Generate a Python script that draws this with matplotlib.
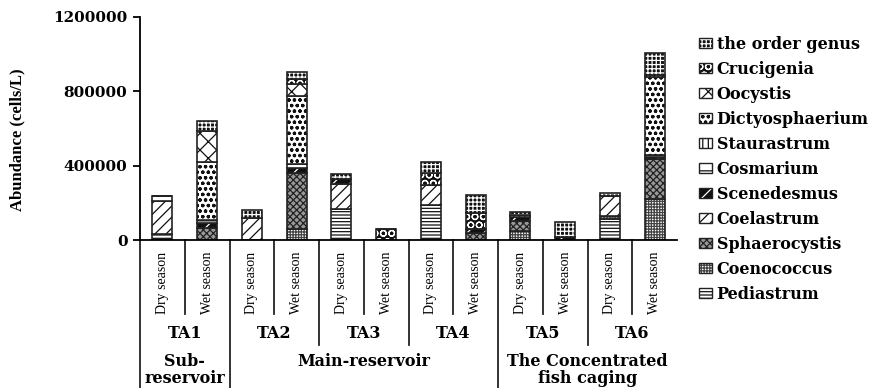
import matplotlib.pyplot as plt
import matplotlib.transforms as mtransforms
from matplotlib.patches import Patch
import numpy as np

plt.rcParams['font.family'] = ['Liberation Serif', 'DejaVu Serif']
plt.rcParams['hatch.linewidth'] = 0.9
wide = ['DejaVu Serif', 'Liberation Serif']

# bars: TA1 dry, TA1 wet, TA2 dry, ... TA6 wet
seasons = ['Dry season', 'Wet season'] * 6
sites = ['TA1', 'TA2', 'TA3', 'TA4', 'TA5', 'TA6']
regions = ['Sub-\nreservoir', 'Main-reservoir', 'The Concentrated\nfish caging']

pediastrum      = [30000, 0, 0, 0, 169000, 0, 190000, 0, 0, 0, 111000, 0]
coenococcus     = [0, 0, 0, 61000, 0, 0, 0, 0, 48000, 0, 18000, 222000]
sphaerocystis   = [0, 66000, 0, 301000, 0, 0, 0, 39000, 54000, 0, 0, 215000]
coelastrum      = [180000, 0, 120000, 0, 131000, 0, 108000, 0, 0, 0, 108000, 0]
scenedesmus     = [0, 25000, 0, 25000, 30000, 0, 0, 22000, 20000, 16000, 0, 12000]
cosmarium       = [27000, 16000, 0, 20000, 0, 0, 0, 0, 0, 0, 0, 11000]
staurastrum     = [0, 0, 0, 0, 0, 0, 0, 0, 12000, 0, 0, 0]
dictyosphaerium = [0, 314000, 0, 368000, 0, 0, 0, 0, 0, 0, 0, 418000]
oocystis        = [0, 165000, 0, 63000, 0, 0, 0, 0, 0, 0, 0, 0]
crucigenia      = [0, 0, 0, 27000, 0, 61000, 63000, 86000, 0, 0, 0, 12000]
order_genus     = [0, 54000, 41000, 39000, 23000, 0, 61000, 93000, 18000, 82000, 18000, 117000]

# name, values, face colour, hatch, hatch colour
series = [
    ('Pediastrum', pediastrum, 'white', '-----', '#111111'),
    ('Coenococcus', coenococcus, 'white', '++++++', '#444444'),
    ('Sphaerocystis', sphaerocystis, '#999999', 'xxxxx', '#222222'),
    ('Coelastrum', coelastrum, 'white', '///', '#111111'),
    ('Scenedesmus', scenedesmus, '#111111', '//', 'white'),
    ('Cosmarium', cosmarium, 'white', '--', '#111111'),
    ('Staurastrum', staurastrum, 'white', '|||', '#111111'),
    ('Dictyosphaerium', dictyosphaerium, 'white', 'ooo', '#111111'),
    ('Oocystis', oocystis, 'white', 'xx', '#111111'),
    ('Crucigenia', crucigenia, '#111111', 'OO', 'white'),
    ('the order genus', order_genus, '#111111', '++++', 'white'),
]

fig = plt.figure(figsize=(8.89, 3.88), dpi=100)
W, H = 889, 388
ax = fig.add_axes([140 / W, 1 - 240 / H, (677 - 140) / W, (240 - 17) / H])

x = np.arange(12) + 0.5
bottom = np.zeros(12)
handles = []
for name, vals, fc, hatch, hc in series:
    ax.bar(x, vals, 0.45, bottom=bottom, color=fc, hatch=hatch,
           edgecolor=hc, linewidth=0)
    ax.bar(x, vals, 0.45, bottom=bottom, fill=False,
           edgecolor='#222222', linewidth=1.2)
    bottom += np.array(vals)
    handles.append((Patch(facecolor=fc, hatch=hatch, edgecolor=hc, linewidth=0),
                    Patch(fill=False, edgecolor='#222222', linewidth=1.0)))

ax.set_xlim(0, 12)
ax.set_ylim(0, 1200000)
ax.set_yticks([0, 400000, 800000, 1200000])
ax.set_yticklabels(['0', '400000', '800000', '1200000'], fontsize=11,
                   fontweight='bold', family=wide)
ax.set_xticks([])
ax.spines['top'].set_visible(False)
ax.spines['right'].set_visible(False)
ax.spines['left'].set_linewidth(1.3)
ax.spines['bottom'].set_linewidth(1.3)
ax.tick_params(axis='y', direction='out', length=5, width=1.3, pad=4)
ax.set_ylabel('Abundance (cells/L)', fontsize=12, fontweight='bold')
ax.yaxis.set_label_coords(-0.214, 0.45)

# category table below the axis
tr = mtransforms.blended_transform_factory(ax.transData, fig.transFigure)
def fy(p):
    return 1 - p / H

ax.plot([0, 0], [fy(240), 0], transform=tr, color='#222222', lw=1.3, clip_on=False)
for k in range(1, 12):
    if k in (2, 8):
        end = 0
    elif k % 2 == 0:
        end = fy(345)
    else:
        end = fy(314)
    ax.plot([k, k], [fy(240), end], transform=tr, color='#222222', lw=1.3, clip_on=False)

for i, s in enumerate(seasons):
    ax.text(i + 0.5, fy(283), s, transform=tr, rotation=90, ha='center', va='center',
            fontsize=10)
for j, s in enumerate(sites):
    ax.text(2 * j + 1, fy(333), s, transform=tr, ha='center', va='center',
            fontsize=11.5, fontweight='bold', family=wide)
ax.text(1, fy(370), regions[0], transform=tr, ha='center', va='center',
        fontsize=11.5, fontweight='bold', linespacing=1.0, family=wide)
ax.text(5, fy(362), regions[1], transform=tr, ha='center', va='center',
        fontsize=11.5, fontweight='bold', family=wide)
ax.text(10, fy(370), regions[2], transform=tr, ha='center', va='center',
        fontsize=11.5, fontweight='bold', linespacing=1.0, family=wide)

labels = [s[0] for s in series]
fig.legend(handles[::-1], labels[::-1], loc='upper left',
           bbox_to_anchor=(699 / W, 1 - 36 / H), frameon=False,
           prop={'weight': 'bold', 'size': 11.5, 'family': wide}, labelspacing=0.5,
           handlelength=0.8, handleheight=0.6, handletextpad=0.3,
           borderpad=0, borderaxespad=0)

fig.savefig('out.png', dpi=100)
